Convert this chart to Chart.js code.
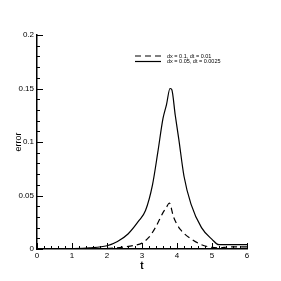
<!DOCTYPE html>
<html>
<head>
<meta charset="utf-8">
<script src="https://cdn.jsdelivr.net/npm/chart.js@4/dist/chart.umd.min.js"></script>
<style>
  html, body { margin: 0; padding: 0; background: #fff; }
  #wrap { width: 281px; height: 281px; }
</style>
</head>
<body>
<div id="wrap"><canvas id="errChart"></canvas></div>
<script>
// ---------- DATA ----------
const seriesLabels = ["dx = 0.1, dt = 0.01", "dx = 0.05, dt = 0.0025"];

const coarseT = [0, 2, 2.5, 2.8, 3.0, 3.2, 3.4, 3.6, 3.7, 3.78, 3.9, 4.0, 4.1, 4.4, 4.7, 5.0, 5.2, 5.5, 6];
const coarseErr = [0, 0.0005, 0.002, 0.0035, 0.0055, 0.011, 0.021, 0.034, 0.039, 0.043, 0.03, 0.023, 0.018, 0.0095, 0.004, 0.0015, 0.001, 0.002, 0.002];

const fineT = [0, 1, 1.5, 2, 2.3, 2.6, 2.9, 3.1, 3.3, 3.45, 3.6, 3.7, 3.8, 3.85, 3.95, 4.05, 4.2, 4.4, 4.7, 5.0, 5.2, 5.5, 6];
const fineErr = [0, 0.0003, 0.001, 0.003, 0.007, 0.014, 0.026, 0.036, 0.06, 0.09, 0.122, 0.135, 0.15, 0.149, 0.125, 0.103, 0.068, 0.042, 0.02, 0.009, 0.004, 0.004, 0.004];

const xTicks = [0, 1, 2, 3, 4, 5, 6];
const yTicks = [0, 0.05, 0.1, 0.15, 0.2];

const toPoints = (xs, ys) => xs.map((x, i) => ({ x: x, y: ys[i] }));

// ---------- inward tick marks ----------
const tickMarks = {
  id: "tickMarks",
  afterDraw(chart) {
    const ctx = chart.ctx;
    const xs = chart.scales.x, ys = chart.scales.y;
    ctx.save();
    ctx.strokeStyle = "#000";
    ctx.lineWidth = 1;
    for (let v = 0; v <= 6.0001; v += 0.2) {
      const major = Math.abs(v - Math.round(v)) < 1e-6;
      const px = Math.round(xs.getPixelForValue(v)) + 0.5;
      ctx.beginPath();
      ctx.moveTo(px, ys.bottom);
      ctx.lineTo(px, ys.bottom - (major ? 6 : 3));
      ctx.stroke();
    }
    for (let v = 0; v <= 0.2001; v += 0.01) {
      const major = Math.abs(v / 0.05 - Math.round(v / 0.05)) < 1e-6;
      const py = Math.round(ys.getPixelForValue(v)) + 0.5;
      ctx.beginPath();
      ctx.moveTo(xs.left, py);
      ctx.lineTo(xs.left + (major ? 6 : 3), py);
      ctx.stroke();
    }
    ctx.restore();
  }
};

// ---------- legend ----------
const boxLegend = {
  id: "boxLegend",
  afterDraw(chart) {
    const ctx = chart.ctx;
    ctx.save();
    ctx.font = "5.5px 'Liberation Sans', Arial, sans-serif";
    ctx.textBaseline = "middle";
    ctx.fillStyle = "#000";
    chart.data.datasets.forEach((ds, i) => {
      const y = 56 + i * 5.5;
      ctx.strokeStyle = "#000";
      ctx.lineWidth = 1.2;
      ctx.setLineDash(ds.borderDash || []);
      ctx.beginPath();
      ctx.moveTo(135, y);
      ctx.lineTo(161, y);
      ctx.stroke();
      ctx.setLineDash([]);
      ctx.fillText(ds.label, 167, y);
    });
    ctx.restore();
  }
};

new Chart(document.getElementById("errChart"), {
  type: "line",
  data: {
    datasets: [
      {
        label: seriesLabels[0],
        data: toPoints(coarseT, coarseErr),
        borderColor: "#000",
        borderWidth: 1.2,
        borderDash: [6, 4],
        pointRadius: 0,
        cubicInterpolationMode: "monotone",
        fill: false
      },
      {
        label: seriesLabels[1],
        data: toPoints(fineT, fineErr),
        borderColor: "#000",
        borderWidth: 1.2,
        pointRadius: 0,
        cubicInterpolationMode: "monotone",
        fill: false
      }
    ]
  },
  options: {
    responsive: true,
    maintainAspectRatio: false,
    animation: false,
    layout: { padding: { left: 0, top: 35, right: 34, bottom: 0 } },
    plugins: { legend: { display: false }, tooltip: { enabled: false } },
    scales: {
      x: {
        type: "linear",
        min: 0,
        max: 6,
        afterFit(s) { s.height = 32; },
        afterBuildTicks(s) { s.ticks = xTicks.map(v => ({ value: v })); },
        grid: { display: false, drawTicks: false },
        border: { display: true, color: "#000", width: 1.5 },
        ticks: {
          padding: 2,
          color: "#000",
          maxRotation: 0,
          font: { family: "'Liberation Sans', Arial, sans-serif", size: 8 }
        },
        title: {
          display: true,
          text: "t",
          color: "#000",
          padding: { top: 0, bottom: 9 },
          font: { family: "'Liberation Sans', Arial, sans-serif", size: 10, weight: "bold" }
        }
      },
      y: {
        type: "linear",
        min: 0,
        max: 0.2,
        afterFit(s) { s.width = 37; },
        afterBuildTicks(s) { s.ticks = yTicks.map(v => ({ value: v })); },
        grid: { display: false, drawTicks: false },
        border: { display: true, color: "#000", width: 1.5 },
        ticks: {
          padding: 3,
          color: "#000",
          font: { family: "'Liberation Sans', Arial, sans-serif", size: 8 },
          callback: v => String(v)
        },
        title: {
          display: true,
          text: "error",
          color: "#000",
          padding: { top: 13, bottom: 0 },
          font: { family: "'Liberation Sans', Arial, sans-serif", size: 9 }
        }
      }
    }
  },
  plugins: [tickMarks, boxLegend]
});
</script>
</body>
</html>
